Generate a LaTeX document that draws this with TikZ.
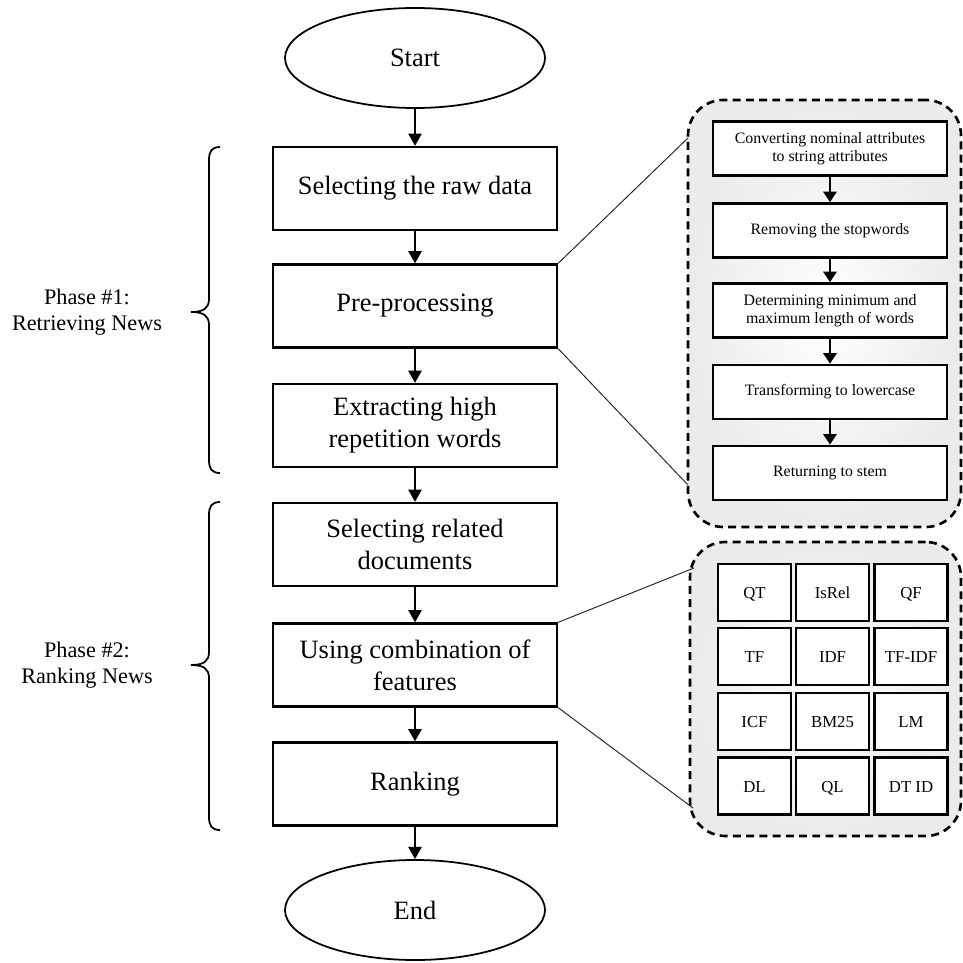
\documentclass[tikz,border=0pt]{standalone}
\usepackage{fontspec}
\setmainfont{Liberation Serif}
\usetikzlibrary{arrows.meta,shapes.geometric}
\def\upx{0.567pt}
\begin{document}
\begin{tikzpicture}[x=0.567pt,y=-0.567pt,
  mainbox/.style={draw, line width=1.3pt, minimum width=284*\upx, minimum height=83*\upx, align=center, font=\fontsize{15}{18}\selectfont, inner sep=0pt},
  term/.style={ellipse, draw, line width=1pt, minimum width=260*\upx, minimum height=100*\upx, font=\fontsize{15}{18}\selectfont, inner sep=0pt},
  flow/.style={line width=1.3pt, -{Triangle[length=7pt,width=7.5pt]}},
  subflow/.style={line width=1.6pt, -{Triangle[length=6pt,width=7.5pt]}},
  subbox/.style={draw, line width=1.5pt, fill=white, minimum width=234*\upx, minimum height=54*\upx, align=center, font=\fontsize{9}{10.5}\selectfont, inner sep=0pt},
  cell/.style={draw, line width=1.5pt, fill=white, minimum width=73*\upx, minimum height=57*\upx, font=\fontsize{9.5}{11}\selectfont, inner sep=0pt, text height=6.8pt, text depth=0pt},
  panel/.style={draw, dash pattern=on 4.5pt off 3pt, line width=1.5pt, rounded corners=20pt, inner color=white, outer color=black!8, inner sep=0pt},
  zoomline/.style={line width=0.55pt, draw=black!85},
  bracestyle/.style={line width=1pt},
  phase/.style={align=center, font=\fontsize{12.6}{14.5}\selectfont}
]
\useasboundingbox (0,0) rectangle (963,963);

% main column
\node[term] (start) at (415,58) {Start};
\node[mainbox] (raw) at (415,188.5) {Selecting the raw data};
\node[mainbox] (pre) at (415,306) {Pre-processing};
\node[mainbox] (ext) at (415,425.5) {Extracting high\\repetition words};
\node[mainbox] (rel) at (415,544.5) {Selecting related\\documents};
\node[mainbox] (comb) at (415,665) {Using combination of\\features};
\node[mainbox] (rank) at (415,784) {Ranking};
\node[term] (end) at (415,910) {End};

\draw[flow] (start) -- (raw);
\draw[flow] (raw) -- (pre);
\draw[flow] (pre) -- (ext);
\draw[flow] (ext) -- (rel);
\draw[flow] (rel) -- (comb);
\draw[flow] (comb) -- (rank);
\draw[flow] (rank) -- (end);

% phase braces
\draw[bracestyle] (220,147) .. controls (212,147) and (209,151) .. (209,160) -- (209,299)
  .. controls (209,308) and (204,312) .. (191,312)
  .. controls (204,312) and (209,316) .. (209,325) -- (209,460)
  .. controls (209,469) and (212,473) .. (220,473);
\node[phase] (ph1) at (87,312) {Phase \#1:\\Retrieving News};

\draw[bracestyle] (220,502) .. controls (212,502) and (209,506) .. (209,515) -- (209,652)
  .. controls (209,661) and (204,665) .. (191,665)
  .. controls (204,665) and (209,669) .. (209,678) -- (209,817)
  .. controls (209,826) and (212,830) .. (220,830);
\node[phase] (ph2) at (87,665) {Phase \#2:\\Ranking News};

% panel 1
\node[panel, minimum width=273*\upx, minimum height=427*\upx] (p1) at (824.5,313.5) {};
\node[subbox] (s1) at (830,148.5) {Converting nominal attributes\\to string attributes};
\node[subbox] (s2) at (830,230.5) {Removing the stopwords};
\node[subbox] (s3) at (830,310.5) {Determining minimum and\\maximum length of words};
\node[subbox] (s4) at (830,392) {Transforming to lowercase};
\node[subbox] (s5) at (830,473) {Returning to stem};
\draw[subflow] (s1) -- (s2);
\draw[subflow] (s2) -- (s3);
\draw[subflow] (s3) -- (s4);
\draw[subflow] (s4) -- (s5);

\coordinate (z1a) at (688,138);
\coordinate (z1b) at (688,485);
\draw[zoomline] (pre.north east) -- (z1a);
\draw[zoomline] (pre.south east) -- (z1b);

% panel 2
\node[panel, minimum width=271*\upx, minimum height=294*\upx] (p2) at (825.5,689) {};
\node[cell] (c11) at (754.5,592.5) {QT};
\node[cell] (c12) at (832.5,592.5) {IsRel};
\node[cell] (c13) at (911,592.5) {QF};
\node[cell] (c21) at (754.5,656.5) {TF};
\node[cell] (c22) at (832.5,656.5) {IDF};
\node[cell] (c23) at (911,656.5) {TF-IDF};
\node[cell] (c31) at (754.5,721.5) {ICF};
\node[cell] (c32) at (832.5,721.5) {BM25};
\node[cell] (c33) at (911,721.5) {LM};
\node[cell] (c41) at (754.5,786) {DL};
\node[cell] (c42) at (832.5,786) {QL};
\node[cell] (c43) at (911,786) {DT ID};

\coordinate (z2a) at (694,568);
\coordinate (z2b) at (693,808);
\draw[zoomline] (comb.north east) -- (z2a);
\draw[zoomline] (comb.south east) -- (z2b);
\end{tikzpicture}
\end{document}
